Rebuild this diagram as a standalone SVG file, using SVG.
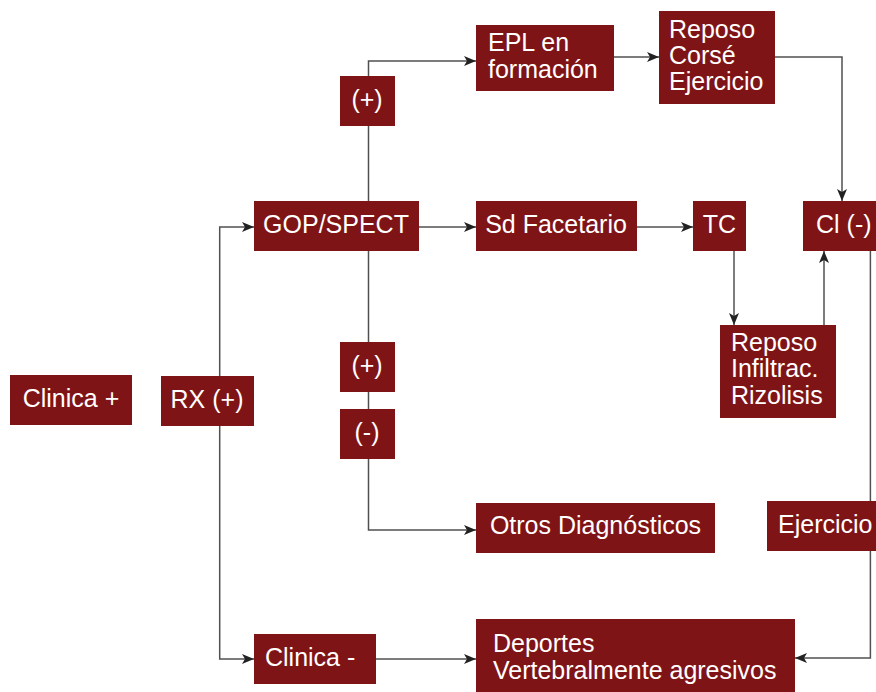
<svg xmlns="http://www.w3.org/2000/svg" width="876" height="692" viewBox="0 0 876 692">
<style>
.box{fill:#7f1417}
.t{fill:#ffffff;font-family:"Liberation Sans",Arial,sans-serif;font-size:25px}
.c{text-anchor:middle}
.ln{fill:none;stroke:#505050;stroke-width:1.5}
</style>
<defs>
<marker id="ah" viewBox="0 0 12 10" refX="12" refY="5" markerWidth="12" markerHeight="10" markerUnits="userSpaceOnUse" orient="auto">
<path d="M0,0 L12,5 L0,10 L3,5 z" fill="#222"/>
</marker>
</defs>
<rect width="876" height="692" fill="#ffffff"/>
<g id="connectors">
<path class="ln" d="M219.7,376 V227 H254" marker-end="url(#ah)"/>
<path class="ln" d="M219.7,426 V659 H254" marker-end="url(#ah)"/>
<path class="ln" d="M368.5,201 V126"/>
<path class="ln" d="M368.5,76 V61 H476" marker-end="url(#ah)"/>
<path class="ln" d="M368.5,251 V342"/>
<path class="ln" d="M368.5,392 V409"/>
<path class="ln" d="M368.5,459 V530 H476" marker-end="url(#ah)"/>
<path class="ln" d="M419,227 H476" marker-end="url(#ah)"/>
<path class="ln" d="M637,227 H693" marker-end="url(#ah)"/>
<path class="ln" d="M614,57 H659" marker-end="url(#ah)"/>
<path class="ln" d="M775,57 H842 V201" marker-end="url(#ah)"/>
<path class="ln" d="M734,251 V325" marker-end="url(#ah)"/>
<path class="ln" d="M824,325 V251" marker-end="url(#ah)"/>
<path class="ln" d="M870.4,251 V501"/>
<path class="ln" d="M870.4,551 V658 H795" marker-end="url(#ah)"/>
<path class="ln" d="M376,659 H476" marker-end="url(#ah)"/>
</g>
<g id="clinica-plus"><rect class="box" x="10" y="375" width="122" height="50"/><text class="t c" x="71" y="407">Clinica +</text></g>
<g id="rx"><rect class="box" x="161" y="376" width="93" height="50"/><text class="t c" x="207" y="408">RX (+)</text></g>
<g id="gop"><rect class="box" x="254" y="201" width="165" height="50"/><text class="t c" x="336" y="233">GOP/SPECT</text></g>
<g id="plus-top"><rect class="box" x="340" y="76" width="55" height="50"/><text class="t c" x="367" y="108">(+)</text></g>
<g id="plus-low"><rect class="box" x="340" y="342" width="55" height="50"/><text class="t c" x="367" y="374">(+)</text></g>
<g id="minus"><rect class="box" x="340" y="409" width="55" height="50"/><text class="t c" x="367" y="441">(-)</text></g>
<g id="epl"><rect class="box" x="476" y="25" width="138" height="66"/><text class="t" x="488" y="51">EPL en</text><text class="t" x="488" y="77.5">formación</text></g>
<g id="reposo-corse"><rect class="box" x="659" y="11" width="116" height="93"/><text class="t" x="669" y="37.5">Reposo</text><text class="t" x="669" y="63.5">Corsé</text><text class="t" x="669" y="90">Ejercicio</text></g>
<g id="sd"><rect class="box" x="476" y="201" width="161" height="50"/><text class="t c" x="556" y="233">Sd Facetario</text></g>
<g id="tc"><rect class="box" x="693" y="201" width="53" height="50"/><text class="t c" x="719.5" y="233">TC</text></g>
<g id="cl-minus"><rect class="box" x="803" y="201" width="80" height="50"/><text class="t" x="816" y="233">Cl (-)</text></g>
<g id="reposo-infiltrac"><rect class="box" x="720" y="325" width="116" height="93"/><text class="t" x="731" y="351">Reposo</text><text class="t" x="731" y="377">Infiltrac.</text><text class="t" x="731" y="403.5">Rizolisis</text></g>
<g id="otros"><rect class="box" x="476" y="503" width="239" height="50"/><text class="t c" x="595.5" y="534">Otros Diagnósticos</text></g>
<g id="ejercicio"><rect class="box" x="767" y="501" width="113" height="50"/><text class="t" x="778" y="533">Ejercicio</text></g>
<g id="clinica-minus"><rect class="box" x="254" y="634" width="122" height="50"/><text class="t" x="265" y="666">Clinica -</text></g>
<g id="deportes"><rect class="box" x="476" y="619" width="319" height="76"/><text class="t" x="493" y="652">Deportes</text><text class="t" x="493" y="678.5">Vertebralmente agresivos</text></g>
</svg>
